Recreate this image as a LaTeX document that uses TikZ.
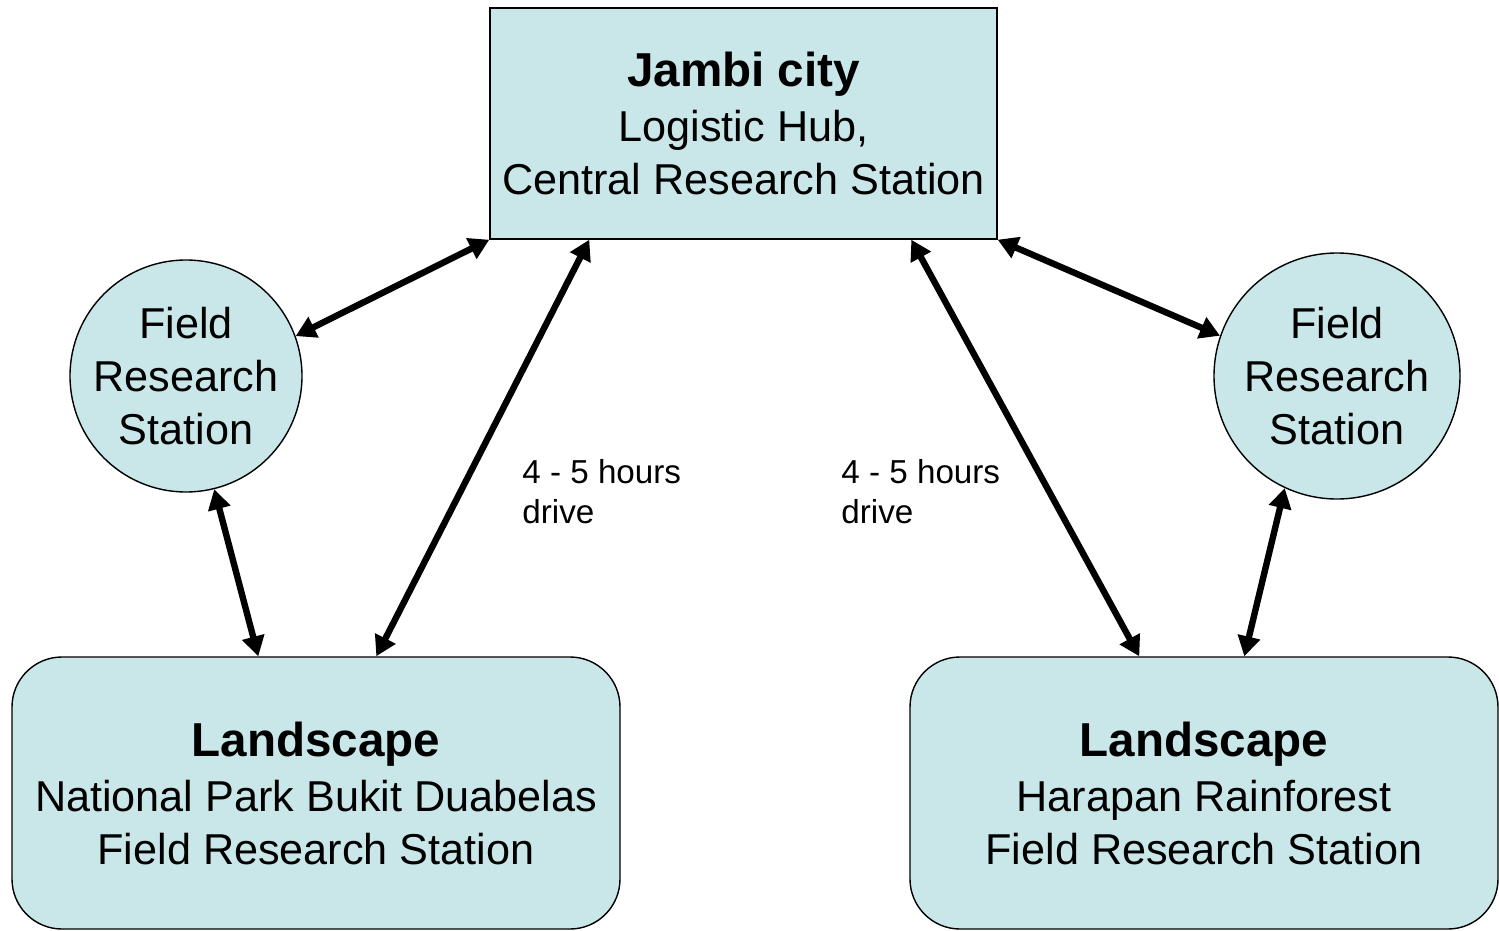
\documentclass[tikz,border=0pt]{standalone}
\usepackage{fontspec}
\setmainfont{Liberation Sans}
\usetikzlibrary{arrows.meta}
\definecolor{boxfill}{RGB}{201,230,232}
\newcommand{\headline}[1]{{\fontsize{23.8}{26.5}\selectfont\bfseries #1}}
\begin{document}
\begin{tikzpicture}[x=0.5pt,y=-0.5pt,
  box/.style={draw=black,line width=0.7pt,fill=boxfill,align=center,inner sep=0pt,font=\fontsize{21.6}{26.5}\selectfont},
  station/.style={box,circle},
  link/.style={line width=3.2pt,{Triangle[length=10pt,width=11pt]}-{Triangle[length=10pt,width=11pt]}},
  note/.style={align=left,inner sep=0pt,anchor=west,font=\fontsize{16.6}{20}\selectfont}]
\useasboundingbox (0,0) rectangle (1499,931);
\node[box,minimum width=253.5pt,minimum height=115.5pt] (hub) at (743.5,123.5)
  {\headline{Jambi city}\\[1pt]Logistic Hub,\\Central Research Station};
\node[station,minimum size=116pt] (lc) at (186,376) {Field\\Research\\Station};
\node[station,minimum size=123pt] (rc) at (1337,376) {Field\\Research\\Station};
\node[box,rounded corners=25pt,minimum width=304pt,minimum height=136pt] (parkL) at (316,793)
  {\headline{Landscape}\\[1pt]National Park Bukit Duabelas\\Field Research Station};
\node[box,rounded corners=25pt,minimum width=294pt,minimum height=136pt] (parkR) at (1204,793)
  {\headline{Landscape}\\[1pt]Harapan Rainforest\\Field Research Station};
\node[note] (d1) at (522,492) {4 - 5 hours\\drive};
\node[note] (d2) at (841,492) {4 - 5 hours\\drive};
\draw[link] (lc.20) -- (hub.south west);
\draw[link] (lc.-76) -- ([xshift=123.5pt]parkL.north west);
\draw[link] ([xshift=50pt]hub.south west) -- ([xshift=182.5pt]parkL.north west);
\draw[link] ([xshift=211pt]hub.south west) -- ([xshift=115pt]parkR.north west);
\draw[link] (hub.south east) -- (rc.161);
\draw[link] (rc.-115) -- ([xshift=167.5pt]parkR.north west);
\end{tikzpicture}
\end{document}
